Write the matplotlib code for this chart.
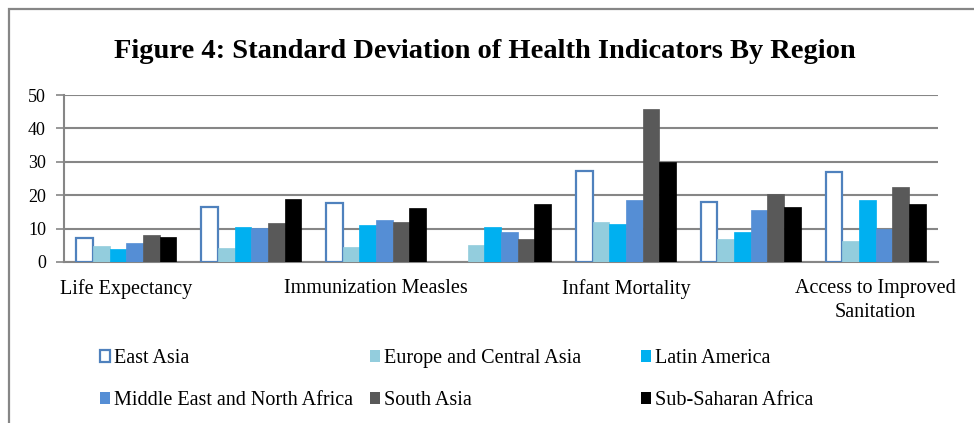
import matplotlib
matplotlib.use('Agg')
import matplotlib.pyplot as plt
import numpy as np
from matplotlib.patches import Patch, Rectangle

plt.rcParams['font.family'] = ['Liberation Serif', 'DejaVu Serif']

# data
categories = ['Life Expectancy', 'Immunization DPT', 'Immunization Measles',
              'Adult Literacy', 'Infant Mortality', 'Access to Improved Water',
              'Access to Improved\nSanitation']
regions = ['East Asia', 'Europe and Central Asia', 'Latin America',
           'Middle East and North Africa', 'South Asia', 'Sub-Saharan Africa']
east_asia = [7.2, 16.5, 17.6, np.nan, 27.2, 17.9, 26.8]   # no bar in group 4
europe_central_asia = [4.9, 4.3, 4.6, 5.0, 12.0, 7.0, 6.4]
latin_america = [3.8, 10.4, 11.0, 10.4, 11.5, 8.9, 18.7]
mena = [5.6, 10.2, 12.6, 8.9, 18.6, 15.6, 9.9]
south_asia = [8.2, 11.8, 11.9, 6.9, 45.7, 20.5, 22.4]
sub_saharan = [7.4, 19.0, 16.3, 17.5, 30.0, 16.6, 17.4]
shown_labels = [0, 2, 4, 6]   # Excel only had room for every other label

series = [east_asia, europe_central_asia, latin_america, mena, south_asia, sub_saharan]
faces = ['white', '#93CDDD', '#00B0F0', '#558ED5', '#595959', '#000000']
edges = ['#4F81BD', '#93CDDD', '#00B0F0', '#558ED5', '#595959', '#000000']

W, H = 974, 423
fig = plt.figure(figsize=(W / 100, H / 100), dpi=100)

# chart frame (cut off at right and bottom like the screenshot)
fig.patches.append(Rectangle((9 / W, -0.1), 1.2, 1 - 9 / H + 0.1, transform=fig.transFigure,
                             fill=False, edgecolor='#868686', linewidth=1.6))

ax = fig.add_axes([64 / W, (H - 262) / H, (938 - 64) / W, (262 - 95) / H])

x = np.arange(len(categories))
bw = 0.8 / len(series)
for i, vals in enumerate(series):
    lw = 1.6 if i == 0 else 0.5
    ax.bar(x - 0.4 + bw * (i + 0.5), vals, bw, color=faces[i], edgecolor=edges[i],
           linewidth=lw, label=regions[i], zorder=3)

ax.set_xlim(-0.5, len(categories) - 0.5)
ax.set_ylim(0, 50)
ax.set_yticks(range(0, 51, 10))
ax.yaxis.grid(True, color='#868686', linewidth=1.5, zorder=0)
ax.set_axisbelow(True)
ax.tick_params(axis='y', length=6, width=1.2, color='#868686', pad=7, labelsize=13)
ax.set_xticks(x[shown_labels])
ax.set_xticklabels([categories[i] for i in shown_labels], fontsize=14.5, linespacing=1.4)
ax.tick_params(axis='x', length=0, pad=12)
for s in ['top', 'right']:
    ax.spines[s].set_visible(False)
ax.spines['left'].set_color('#868686')
ax.spines['left'].set_linewidth(1.5)
ax.spines['bottom'].set_color('#868686')
ax.spines['bottom'].set_linewidth(1.5)

fig.text(485 / W, 1 - 51 / H, 'Figure 4: Standard Deviation of Health Indicators By Region',
         ha='center', va='center', fontsize=20.5, fontweight='bold')

# legend in three columns placed like the original
handles = [Patch(facecolor=faces[i], edgecolor=edges[i], linewidth=1.6 if i == 0 else 0)
           for i in range(len(regions))]
col_x = [100, 370, 641]
for c in range(3):
    idx = [c, c + 3]
    fig.legend([handles[i] for i in idx], [regions[i] for i in idx],
               loc='upper left', bbox_to_anchor=(col_x[c] / W, 1 - 349 / H),
               frameon=False, fontsize=14.5, borderpad=0, borderaxespad=0,
               handlelength=0.5, handleheight=0.5, handletextpad=0.2, labelspacing=1.15)

fig.savefig('out.png', dpi=100)
